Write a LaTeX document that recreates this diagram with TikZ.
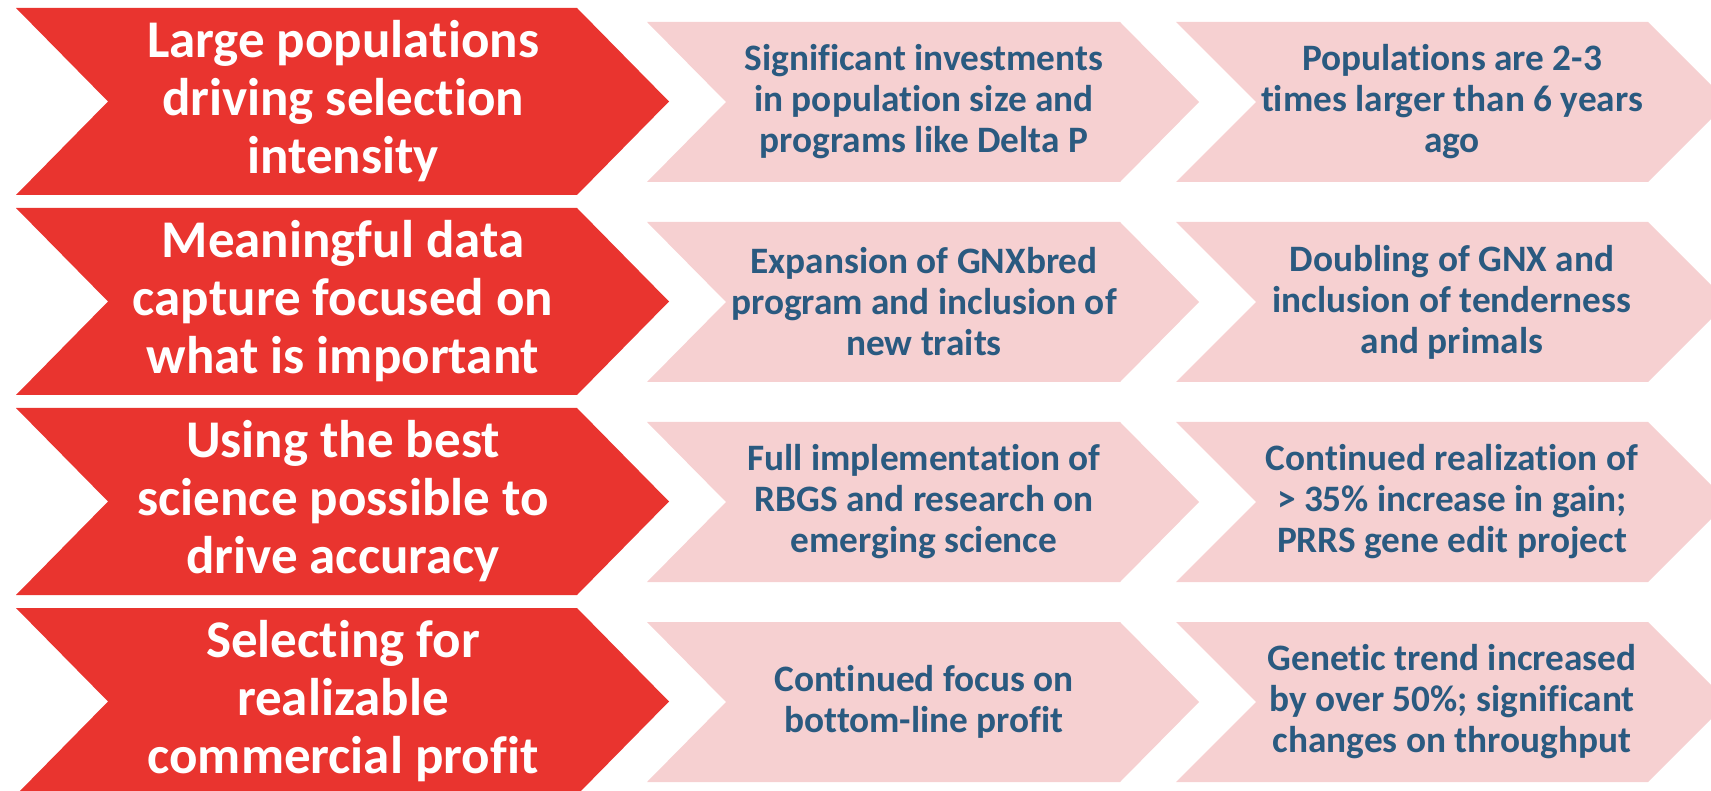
\documentclass[tikz,border=0pt]{standalone}
\usepackage{fontspec}
\setmainfont{Carlito}[Ligatures={NoCommon}]
\definecolor{chevred}{HTML}{E9342F}
\definecolor{chevpink}{HTML}{F6D0D1}
\definecolor{txtblue}{HTML}{2A5A80}
\newcommand\mychev[6]{%
  \fill[#6] (#1,#3-#4) -- (#2,#3-#4) -- (#2+#5,#3) -- (#2,#3+#4) -- (#1,#3+#4) -- (#1+#5,#3) -- cycle;}
\tikzset{
  redtxt/.style={text=white, font=\fontsize{53}{58}\selectfont\bfseries, align=center, inner sep=0pt},
  bluetxt/.style={text=txtblue, font=\fontsize{37.3}{41}\selectfont\bfseries, align=center, inner sep=0pt}
}
\begin{document}
\begin{tikzpicture}[x=1pt,y=-1pt]
\useasboundingbox (0,0) rectangle (1711,791);
\clip (0,0) rectangle (1711,791);
\foreach \k in {0,1,2,3}{
  \pgfmathsetmacro\rm{101.5+200*\k}
  \pgfmathsetmacro\pm{102+200*\k}
  \mychev{16}{577}{\rm}{93.5}{92}{chevred}
  \mychev{647}{1120}{\pm}{80}{79}{chevpink}
  \mychev{1176}{1648}{\pm}{80}{80}{chevpink}
}
\node[redtxt] (r1) at (343,101.5) {Large populations\\driving selection\\intensity};
\node[redtxt] (r2) at (343,301.5) {Meaningful data\\capture focused on\\what is important};
\node[redtxt] (r3) at (343,501.5) {Using the best\\science possible to\\drive accuracy};
\node[redtxt] (r4) at (343,701.5) {Selecting for\\realizable\\commercial profit};
\node[bluetxt] (a1) at (924,102) {Significant investments\\in population size and\\programs like Delta P};
\node[bluetxt] (a2) at (924,302) {Expansion of GNXbred\\program and inclusion of\\new traits};
\node[bluetxt] (a3) at (924,502) {Full implementation of\\RBGS and research on\\emerging science};
\node[bluetxt] (a4) at (924,702) {Continued focus on\\bottom-line profit};
\node[bluetxt] (b1) at (1452,102) {Populations are 2-3\\times larger than 6 years\\ago};
\node[bluetxt] (b2) at (1452,302) {Doubling of GNX and\\inclusion of tenderness\\and primals};
\node[bluetxt] (b3) at (1452,502) {Continued realization of\\> 35\% increase in gain;\\PRRS gene edit project};
\node[bluetxt] (b4) at (1452,702) {Genetic trend increased\\by over 50\%; significant\\changes on throughput};
\end{tikzpicture}
\end{document}
